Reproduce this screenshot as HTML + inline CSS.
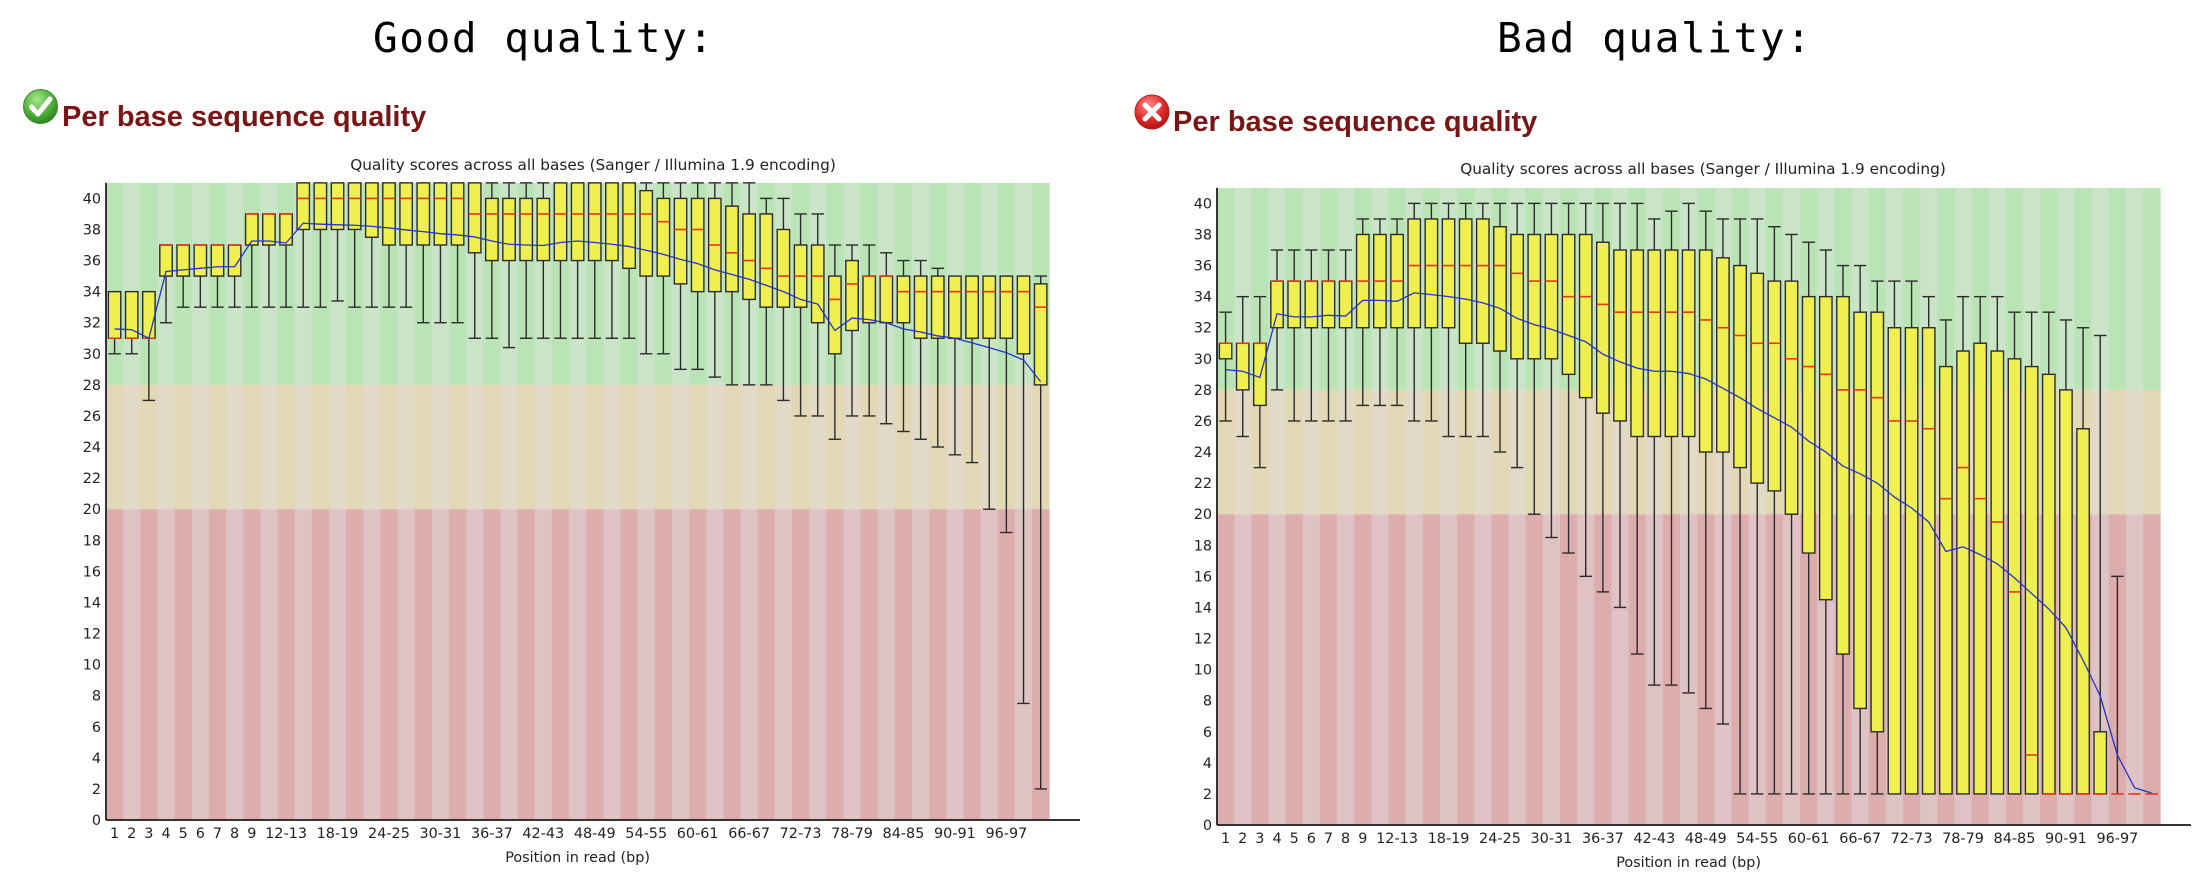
<!DOCTYPE html>
<html><head><meta charset="utf-8">
<style>
html,body{margin:0;padding:0;background:#fff;}
svg{display:block;}
.tk{font-family:"DejaVu Sans","Liberation Sans",sans-serif;font-size:14.4px;fill:#222;}
.ttl{font-family:"DejaVu Sans","Liberation Sans",sans-serif;font-size:15.3px;fill:#222;}
.hd{font-family:"DejaVu Sans Mono","Liberation Mono",monospace;font-size:41px;letter-spacing:1.6px;fill:#000;}
.tt{font-family:"Liberation Sans",Arial,sans-serif;font-weight:bold;font-size:29px;fill:#7a1515;}
</style></head><body>
<svg id="s" width="2200" height="886" viewBox="0 0 2200 886" xmlns="http://www.w3.org/2000/svg">
<defs>
<radialGradient id="gg" cx="0.4" cy="0.3" r="0.75"><stop offset="0" stop-color="#a8e88a"/><stop offset="0.6" stop-color="#4caf36"/><stop offset="1" stop-color="#2a7d1c"/></radialGradient>
<radialGradient id="rg" cx="0.4" cy="0.3" r="0.75"><stop offset="0" stop-color="#ff8a8a"/><stop offset="0.6" stop-color="#e02828"/><stop offset="1" stop-color="#a81212"/></radialGradient>
</defs>
<rect width="2200" height="886" fill="#fff"/>
<text class="hd" x="373" y="52">Good quality:</text>
<text class="hd" x="1497" y="52">Bad quality:</text>

<circle cx="40.5" cy="106.5" r="17" fill="url(#gg)" stroke="#3c8a2c" stroke-width="1"/>
<path d="M31.5,107 L38,114 L50,99" fill="none" stroke="#fff" stroke-width="5" stroke-linecap="round" stroke-linejoin="round"/>
<text class="tt" x="62" y="126">Per base sequence quality</text>

<circle cx="1152" cy="112" r="17" fill="url(#rg)" stroke="#b02020" stroke-width="1"/>
<path d="M1145,105 L1159,119 M1159,105 L1145,119" fill="none" stroke="#fff" stroke-width="5" stroke-linecap="round"/>
<text class="tt" x="1173" y="131">Per base sequence quality</text>

<g transform="translate(106,820)">
<g id="Ls"></g>
<g class="tk" text-anchor="end">
<text x="-5" y="5">0</text><text x="-5" y="-26.08">2</text><text x="-5" y="-57.16">4</text><text x="-5" y="-88.24">6</text><text x="-5" y="-119.32">8</text><text x="-5" y="-150.4">10</text><text x="-5" y="-181.48">12</text><text x="-5" y="-212.56">14</text><text x="-5" y="-243.64">16</text><text x="-5" y="-274.72">18</text><text x="-5" y="-305.8">20</text><text x="-5" y="-336.88">22</text><text x="-5" y="-367.96">24</text><text x="-5" y="-399.04">26</text><text x="-5" y="-430.12">28</text><text x="-5" y="-461.2">30</text><text x="-5" y="-492.28">32</text><text x="-5" y="-523.36">34</text><text x="-5" y="-554.44">36</text><text x="-5" y="-585.52">38</text><text x="-5" y="-616.6">40</text>
</g>
<g class="tk" text-anchor="middle">
<text x="8.575" y="18">1</text><text x="25.725" y="18">2</text><text x="42.875" y="18">3</text><text x="60.025" y="18">4</text><text x="77.175" y="18">5</text><text x="94.325" y="18">6</text><text x="111.475" y="18">7</text><text x="128.625" y="18">8</text><text x="145.775" y="18">9</text><text x="180.075" y="18">12-13</text><text x="231.525" y="18">18-19</text><text x="282.975" y="18">24-25</text><text x="334.425" y="18">30-31</text><text x="385.875" y="18">36-37</text><text x="437.325" y="18">42-43</text><text x="488.775" y="18">48-49</text><text x="540.225" y="18">54-55</text><text x="591.675" y="18">60-61</text><text x="643.125" y="18">66-67</text><text x="694.575" y="18">72-73</text><text x="746.025" y="18">78-79</text><text x="797.475" y="18">84-85</text><text x="848.925" y="18">90-91</text><text x="900.375" y="18">96-97</text>
<text x="471.6" y="42">Position in read (bp)</text>
</g>
<text class="ttl" text-anchor="middle" x="487" y="-650">Quality scores across all bases (Sanger / Illumina 1.9 encoding)</text>
</g>

<g transform="translate(1217,825)">
<g id="Rs"></g>
<g class="tk" text-anchor="end">
<text x="-5" y="5">0</text><text x="-5" y="-26.08">2</text><text x="-5" y="-57.16">4</text><text x="-5" y="-88.24">6</text><text x="-5" y="-119.32">8</text><text x="-5" y="-150.4">10</text><text x="-5" y="-181.48">12</text><text x="-5" y="-212.56">14</text><text x="-5" y="-243.64">16</text><text x="-5" y="-274.72">18</text><text x="-5" y="-305.8">20</text><text x="-5" y="-336.88">22</text><text x="-5" y="-367.96">24</text><text x="-5" y="-399.04">26</text><text x="-5" y="-430.12">28</text><text x="-5" y="-461.2">30</text><text x="-5" y="-492.28">32</text><text x="-5" y="-523.36">34</text><text x="-5" y="-554.44">36</text><text x="-5" y="-585.52">38</text><text x="-5" y="-616.6">40</text>
</g>
<g class="tk" text-anchor="middle">
<text x="8.575" y="18">1</text><text x="25.725" y="18">2</text><text x="42.875" y="18">3</text><text x="60.025" y="18">4</text><text x="77.175" y="18">5</text><text x="94.325" y="18">6</text><text x="111.475" y="18">7</text><text x="128.625" y="18">8</text><text x="145.775" y="18">9</text><text x="180.075" y="18">12-13</text><text x="231.525" y="18">18-19</text><text x="282.975" y="18">24-25</text><text x="334.425" y="18">30-31</text><text x="385.875" y="18">36-37</text><text x="437.325" y="18">42-43</text><text x="488.775" y="18">48-49</text><text x="540.225" y="18">54-55</text><text x="591.675" y="18">60-61</text><text x="643.125" y="18">66-67</text><text x="694.575" y="18">72-73</text><text x="746.025" y="18">78-79</text><text x="797.475" y="18">84-85</text><text x="848.925" y="18">90-91</text><text x="900.375" y="18">96-97</text>
<text x="471.6" y="42">Position in read (bp)</text>
</g>
<text class="ttl" text-anchor="middle" x="486" y="-651">Quality scores across all bases (Sanger / Illumina 1.9 encoding)</text>
</g>
</svg>
<script>
const U=15.54, BW=17.15, H=41*U, HW=6.2;
const GOOD=[
[30,31,31,34,34,31.6],[30,31,31,34,34,31.55],[27,31,31,34,34,31.0],
[32,35,37,37,37,35.3],[33,35,37,37,37,35.4],[33,35,37,37,37,35.5],[33,35,37,37,37,35.6],[33,35,37,37,37,35.6],
[33,37,39,39,39,37.26],[33,37,39,39,39,37.26],[33,37,39,39,39,37.13],
[33,38,40,41,41,38.4],[33,38,40,41,41,38.34],[33.4,38,40,41,41,38.3],[33,38,40,41,41,38.27],[33,37.5,40,41,41,38.2],
[33,37,40,41,41,38.1],[33,37,40,41,41,37.97],[32,37,40,41,41,37.86],[32,37,40,41,41,37.73],[32,37,40,41,41,37.65],
[31,36.5,39,41,41,37.52],[31,36,39,40,41,37.26],[30.4,36,39,40,41,37.05],[31,36,39,40,41,37.0],[31,36,39,40,41,36.97],
[31,36,39,41,41,37.16],[31,36,39,41,41,37.26],[31,36,39,41,41,37.16],[31,36,39,41,41,37.05],[31,35.5,39,41,41,36.9],
[30,35,39,40.5,41,36.66],[30,35,38.5,40,41,36.4],[29,34.5,38,40,41,36.08],[29,34,38,40,41,35.8],[28.5,34,37,40,41,35.4],
[28,34,36.5,39.5,41,35.1],[28,33.5,36,39,41,34.8],[28,33,35.5,39,40,34.4],[27,33,35,38,40,34.0],[26,33,35,37,39,33.5],
[26,32,35,37,39,33.2],[24.5,30,33.5,35,37,31.5],[26,31.5,34.5,36,37,32.3],[26,32,35,35,37,32.2],[25.5,32,35,35,36.5,32.0],
[25,32,34,35,36,31.6],[24.5,31,34,35,36,31.4],[24,31,34,35,35.5,31.15],[23.5,31,34,35,35,31.0],[23,31,34,35,35,30.7],
[20,31,34,35,35,30.4],[18.5,31,34,35,35,30.07],[7.5,30,34,35,35,29.6],[2,28,33,34.5,35,28.2]];
const BAD=[
[26,30,31,31,33,29.3],[25,28,31,31,34,29.2],[23,27,31,31,34,28.8],
[28,32,35,35,37,32.9],[26,32,35,35,37,32.7],[26,32,35,35,37,32.7],[26,32,35,35,37,32.8],[26,32,35,35,37,32.75],
[27,32,35,38,39,33.76],[27,32,35,38,39,33.76],[27,32,35,38,39,33.7],
[26,32,36,39,40,34.24],[26,32,36,39,40,34.13],[25,32,36,39,40,34.0],[25,31,36,39,40,33.84],[25,31,36,39,40,33.6],
[24,30.5,36,38.5,40,33.25],[23,30,35.5,38,40,32.6],[20,30,35,38,40,32.2],[18.5,30,35,38,40,31.9],[17.5,29,34,38,40,31.5],
[16,27.5,34,38,40,31.1],[15,26.5,33.5,37.5,40,30.3],[14,26,33,37,40,29.8],[11,25,33,37,40,29.4],[9,25,33,37,39,29.2],
[9,25,33,37,39.5,29.2],[8.5,25,33,37,40,29.05],[7.5,24,32.5,37,39.5,28.7],[6.5,24,32,36.5,39,28.1],[2,23,31.5,36,39,27.5],
[2,22,31,35.5,39,26.8],[2,21.5,31,35,38.5,26.2],[2,20,30,35,38,25.6],[2,17.5,29.5,34,37.5,24.7],[2,14.5,29,34,37,24.0],
[2,11,28,34,36,23.1],[2,7.5,28,33,36,22.6],[2,6,27.5,33,35,22.0],[2,2,26,32,35,21.1],[2,2,26,32,35,20.4],
[2,2,25.5,32,34,19.5],[2,2,21,29.5,32.5,17.6],[2,2,23,30.5,34,17.9],[2,2,21,31,34,17.4],[2,2,19.5,30.5,34,16.8],
[2,2,15,30,33,15.9],[2,2,4.5,29.5,33,14.9],[2,2,2,29,33,13.9],[2,2,2,28,32.5,12.7],[2,2,2,25.5,32,10.6],
[2,2,2,6,31.5,8.3],[2,2,2,2,16,4.5],[2,2,2,2,2,2.4],[2,2,2,2,2,2.05]];
const NS="http://www.w3.org/2000/svg";
function el(p,t,a){const e=document.createElementNS(NS,t);for(const k in a)e.setAttribute(k,a[k]);p.appendChild(e);return e;}
function Y(v){return -v*U;}
function chart(id,data,axisLen){
  const g=document.getElementById(id);
  for(let k=0;k<55;k++){
    const x=k*BW, dk=(k%2===0);
    el(g,'rect',{x:x,y:-H,width:BW+0.4,height:13*U,fill:dk?'#bae4b5':'#c9e4c7'});
    el(g,'rect',{x:x,y:Y(28),width:BW+0.4,height:8*U,fill:dk?'#e3d8b5':'#e2d9c6'});
    el(g,'rect',{x:x,y:Y(20),width:BW+0.4,height:20*U,fill:dk?'#ddadae':'#dfc2c3'});
  }
  const pts=[];
  const gw=el(g,'g',{stroke:'#2b2b2b','stroke-width':1.4,fill:'none'});
  const gb=el(g,'g',{});
  data.forEach((d,i)=>{
    const lo=d[0],q1=d[1],md=d[2],q3=d[3],hi=d[4],mn=d[5];
    const cx=(i+0.5)*BW;
    if(lo<q1){
      el(gw,'line',{x1:cx,y1:Y(lo),x2:cx,y2:Y(q1)});
      el(gw,'line',{x1:cx-HW,y1:Y(lo),x2:cx+HW,y2:Y(lo)});
    }
    if(hi>q3){
      el(gw,'line',{x1:cx,y1:Y(q3),x2:cx,y2:Y(hi)});
      el(gw,'line',{x1:cx-HW,y1:Y(hi),x2:cx+HW,y2:Y(hi)});
    }
    if(q3>q1){
      el(gb,'rect',{x:cx-HW,y:Y(q3),width:2*HW,height:(q3-q1)*U,fill:'#f0ef50',stroke:'#2b2b2b','stroke-width':1.4});
    }
    el(gb,'line',{x1:cx-HW,y1:Y(md),x2:cx+HW,y2:Y(md),stroke:'#dd3a1c','stroke-width':1.6});
    pts.push(cx.toFixed(2)+','+Y(mn).toFixed(2));
  });
  el(g,'polyline',{points:pts.join(' '),fill:'none',stroke:'#2434cc','stroke-width':1.3});
  el(g,'line',{x1:0,y1:-H,x2:0,y2:0,stroke:'#333','stroke-width':2});
  el(g,'line',{x1:0,y1:0,x2:axisLen,y2:0,stroke:'#333','stroke-width':2});
}
chart('Ls',GOOD,974);
chart('Rs',BAD,974);
</script>
</body></html>
